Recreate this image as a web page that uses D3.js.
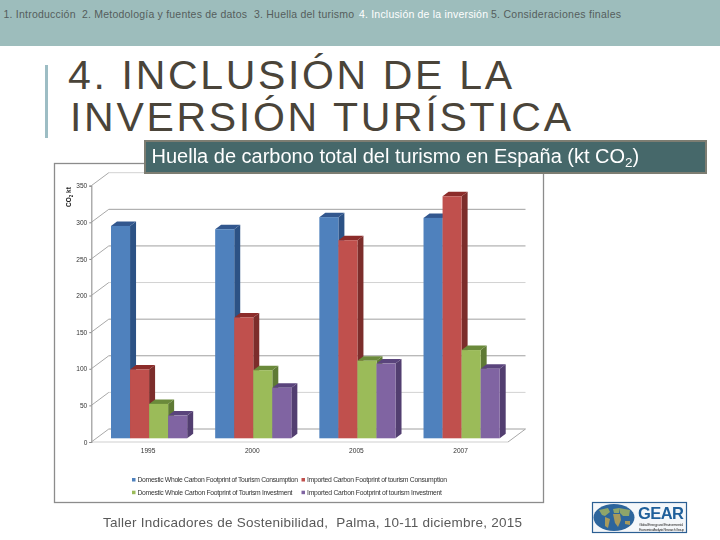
<!DOCTYPE html>
<html>
<head>
<meta charset="utf-8">
<script src="https://cdn.jsdelivr.net/npm/d3@7"></script>
<style>
    html, body { margin: 0; padding: 0; background: #fff; }
    svg { display: block; }
    text { font-family: "Liberation Sans", Arial, sans-serif; white-space: pre; }
</style>
</head>
<body>
<svg id="slide" width="720" height="540"></svg>
<script>
// Values (kt CO2)
const years = ["1995", "2000", "2005", "2007"];
const seriesNames = [
    "Domestic Whole Carbon Footprint of Tourism Consumption",
    "Imported Carbon Footprint of tourism Consumption",
    "Domestic Whole Carbon Footprint of Tourism Investment",
    "Imported Carbon Footprint of tourism Investment"
];
const domesticConsumption = [290, 285.5, 302, 301];
const importedConsumption = [94, 165, 270.5, 330.5];
const domesticInvestment = [47, 93, 106, 120.5];
const importedInvestment = [31, 69, 102, 95];
const yTicks = [0, 50, 100, 150, 200, 250, 300, 350];
const lightTicks = [50, 200, 350];

const frontColors = ["#4f81bd", "#c0504d", "#9bbb59", "#8064a2"];
const sideColors = ["#2c5285", "#7c2d2b", "#5f7a35", "#523e70"];
const topColors = ["#32578e", "#8c2c2a", "#6b8a3b", "#5a447c"];

const navItems = [
    { label: "1. Introducción", x: 3.5, len: 72, on: false },
    { label: "2. Metodología y fuentes de datos", x: 82, len: 165, on: false },
    { label: "3. Huella del turismo", x: 254, len: 100, on: false },
    { label: "4. Inclusión de la inversión", x: 359, len: 129, on: true },
    { label: "5. Consideraciones finales", x: 491, len: 130, on: false }
];

const svg = d3.select("#slide");

// header band
svg.append("rect").attr("width", 720).attr("height", 46).attr("fill", "#9dbdbc");
svg.selectAll(".nav")
    .data(navItems)
    .enter()
    .append("text")
    .attr("class", "nav")
    .attr("x", d => d.x)
    .attr("y", 18)
    .attr("font-size", 10.5)
    .attr("textLength", d => d.len)
    .attr("fill", d => d.on ? "#ffffff" : "#555d5c")
    .text(d => d.label);

// title
svg.append("rect").attr("x", 45).attr("y", 65).attr("width", 3).attr("height", 73).attr("fill", "#9dbdc4");
svg.selectAll(".title")
    .data([
        { label: "4. INCLUSIÓN DE LA", x: 68, y: 89, len: 444 },
        { label: "INVERSIÓN TURÍSTICA", x: 70, y: 131, len: 501 }
    ])
    .enter()
    .append("text")
    .attr("class", "title")
    .attr("x", d => d.x)
    .attr("y", d => d.y)
    .attr("font-size", 41)
    .attr("textLength", d => d.len)
    .attr("fill", "#4a4439")
    .text(d => d.label);

// chart frame
svg.append("rect")
    .attr("x", 54.5).attr("y", 163.5)
    .attr("width", 489).attr("height", 339)
    .attr("fill", "#fff").attr("stroke", "#8c8c8c").attr("stroke-width", 1.3);

const chart = svg.append("g").style("filter", "blur(0.4px)");

/** Scales: front plane of the 3D box, walls are shifted by wall offset */
const y = d3.scaleLinear().domain([0, 350]).range([442, 185.7]);
const x = d3.scaleBand().domain(years).range([91.3, 508]);
const wall = { dx: 17.5, dy: -13 };
const barShift = { dx: 5.7, dy: -3.7 };
const barDepth = { dx: 6, dy: -4.5 };
const inner = d3.scaleBand().domain(d3.range(4)).range([14, x.bandwidth() - 14]);

// back wall gridlines and the slanted side wall lines
chart.selectAll(".grid")
    .data(yTicks)
    .enter()
    .append("line")
    .attr("x1", x.range()[0] + wall.dx)
    .attr("x2", x.range()[1] + wall.dx)
    .attr("y1", d => y(d) + wall.dy)
    .attr("y2", d => y(d) + wall.dy)
    .attr("stroke", d => lightTicks.includes(d) ? "#d2d2d2" : "#a0a0a0");

chart.selectAll(".slant")
    .data(yTicks)
    .enter()
    .append("line")
    .attr("x1", x.range()[0])
    .attr("x2", x.range()[0] + wall.dx)
    .attr("y1", d => y(d))
    .attr("y2", d => y(d) + wall.dy)
    .attr("stroke", "#a8a8a8");

// floor
chart.append("line")
    .attr("x1", x.range()[0]).attr("x2", x.range()[1])
    .attr("y1", y(0)).attr("y2", y(0))
    .attr("stroke", "#cfcfcf").attr("stroke-width", 1.2);
chart.append("line")
    .attr("x1", x.range()[1]).attr("x2", x.range()[1] + wall.dx)
    .attr("y1", y(0)).attr("y2", y(0) + wall.dy)
    .attr("stroke", "#a8a8a8");

// axes
const yAxis = chart.append("g")
    .attr("transform", "translate(" + x.range()[0] + ",0)")
    .call(d3.axisLeft(y).tickValues(yTicks).tickSize(2).tickPadding(2));
yAxis.selectAll("text").attr("font-size", 6.6).attr("fill", "#333").attr("font-family", "DejaVu Sans");
yAxis.selectAll("line").attr("stroke", "#888");
yAxis.select(".domain").attr("stroke", "#9a9a9a").attr("stroke-width", 1.2);

const xAxis = chart.append("g")
    .attr("transform", "translate(0," + y(0) + ")")
    .call(d3.axisBottom(x).tickSize(0).tickPadding(6));
xAxis.select(".domain").remove();
xAxis.selectAll("text")
    .attr("font-size", 6.6).attr("fill", "#333").attr("font-family", "DejaVu Sans")
    .attr("dx", barShift.dx - 1);

// y axis title
const yLabel = chart.append("text")
    .attr("transform", "translate(71,207) rotate(-90)")
    .attr("font-size", 6.5)
    .attr("font-weight", "bold")
    .attr("fill", "#222");
yLabel.append("tspan").text("CO");
yLabel.append("tspan").attr("font-size", 4.5).attr("dy", 1.5).text("2");
yLabel.append("tspan").attr("dy", -1.5).text(" kt");

// bars, one 3D box per value: side face, top face, front face
const allSeries = [domesticConsumption, importedConsumption, domesticInvestment, importedInvestment];
const barData = [];
years.forEach((year, g) => {
    allSeries.forEach((values, s) => {
        barData.push({ year: year, s: s, value: values[g] });
    });
});

const w = inner.bandwidth();
const bars = chart.selectAll(".bar")
    .data(barData)
    .enter()
    .append("g")
    .attr("class", "bar")
    .attr("transform", d => "translate(" + (x(d.year) + inner(d.s) + barShift.dx) + "," + barShift.dy + ")");

bars.append("path")
    .attr("fill", d => sideColors[d.s])
    .attr("d", d => d3.line()([
        [w, y(d.value)],
        [w + barDepth.dx, y(d.value) + barDepth.dy],
        [w + barDepth.dx, y(0) + barDepth.dy],
        [w, y(0)]
    ]) + "Z");

bars.append("path")
    .attr("fill", d => topColors[d.s])
    .attr("d", d => d3.line()([
        [0, y(d.value)],
        [barDepth.dx, y(d.value) + barDepth.dy],
        [w + barDepth.dx, y(d.value) + barDepth.dy],
        [w, y(d.value)]
    ]) + "Z");

bars.append("rect")
    .attr("x", 0)
    .attr("y", d => y(d.value))
    .attr("width", w)
    .attr("height", d => y(0) - y(d.value))
    .attr("fill", d => frontColors[d.s]);

// legend
const legendPos = [
    { x: 132, y: 480, len: 160.5 },
    { x: 301.5, y: 480, len: 140 },
    { x: 132, y: 492.7, len: 155 },
    { x: 301.5, y: 492.7, len: 135 }
];
const legend = chart.selectAll(".legend")
    .data(seriesNames)
    .enter()
    .append("g")
    .attr("class", "legend")
    .attr("transform", (d, i) => "translate(" + legendPos[i].x + "," + legendPos[i].y + ")");
legend.append("rect")
    .attr("x", 0).attr("y", -2).attr("width", 3.5).attr("height", 3.5)
    .attr("fill", (d, i) => frontColors[i]);
legend.append("text")
    .attr("x", 5.5).attr("y", 2)
    .attr("font-size", 6.8)
    .attr("font-family", "DejaVu Sans")
    .attr("fill", "#333")
    .attr("textLength", (d, i) => legendPos[i].len)
    .text(d => d);

// dark caption box over the chart
svg.append("rect")
    .attr("x", 145).attr("y", 141)
    .attr("width", 561).attr("height", 32)
    .attr("fill", "#46686a").attr("stroke", "#7d7d72").attr("stroke-width", 2);
const caption = svg.append("text")
    .attr("x", 151.5).attr("y", 163)
    .attr("font-size", 20)
    .attr("fill", "#fff");
caption.append("tspan").text("Huella de carbono total del turismo en España (kt CO");
caption.append("tspan").attr("font-size", 13.5).attr("dy", 4).text("2");
caption.append("tspan").attr("dy", -4).text(")");

// footer
svg.append("text")
    .attr("x", 103).attr("y", 527)
    .attr("font-size", 13.5)
    .attr("textLength", 419)
    .attr("fill", "#595959")
    .text("Taller Indicadores de Sostenibilidad,  Palma, 10-11 diciembre, 2015");

// GEAR logo
const logo = svg.append("g").attr("transform", "translate(592,502)").style("filter", "blur(0.35px)");
logo.append("rect").attr("x", 0.5).attr("y", 0.5).attr("width", 94).attr("height", 30)
    .attr("fill", "#f4f7fa").attr("stroke", "#2b5f93").attr("stroke-width", 1.2);
logo.append("ellipse").attr("cx", 22).attr("cy", 15.5).attr("rx", 20.5).attr("ry", 13.5).attr("fill", "#2d659c");
logo.selectAll(".land")
    .data([
        "M7 8 L16 6 L18 10 L13 14 L10 13Z",
        "M13 15 L18 17 L16 26 L13 24Z",
        "M21 7 L27 6 L27 11 L22 11Z",
        "M21 12 L28 12 L29 18 L26 25 L23 21Z",
        "M27 6 L38 8 L37 14 L31 14 L28 11Z",
        "M33 19 L38 19 L38 23 L33 22Z"
    ])
    .enter()
    .append("path")
    .attr("d", d => d)
    .attr("fill", (d, i) => i % 2 ? "#a89a5c" : "#8fa56a");
logo.append("text")
    .attr("x", 46).attr("y", 16.5)
    .attr("font-size", 16.5).attr("font-weight", "bold")
    .attr("textLength", 46)
    .attr("fill", "#1f5f9a")
    .text("GEAR");
logo.append("text")
    .attr("x", 47).attr("y", 23.6)
    .attr("font-size", 3.6).attr("textLength", 44).attr("fill", "#333")
    .text("Global Energy and Environmental");
logo.append("text")
    .attr("x", 47).attr("y", 28.6)
    .attr("font-size", 3.6).attr("textLength", 45).attr("fill", "#333")
    .text("Economics Analysis Research Group");
</script>
</body>
</html>
